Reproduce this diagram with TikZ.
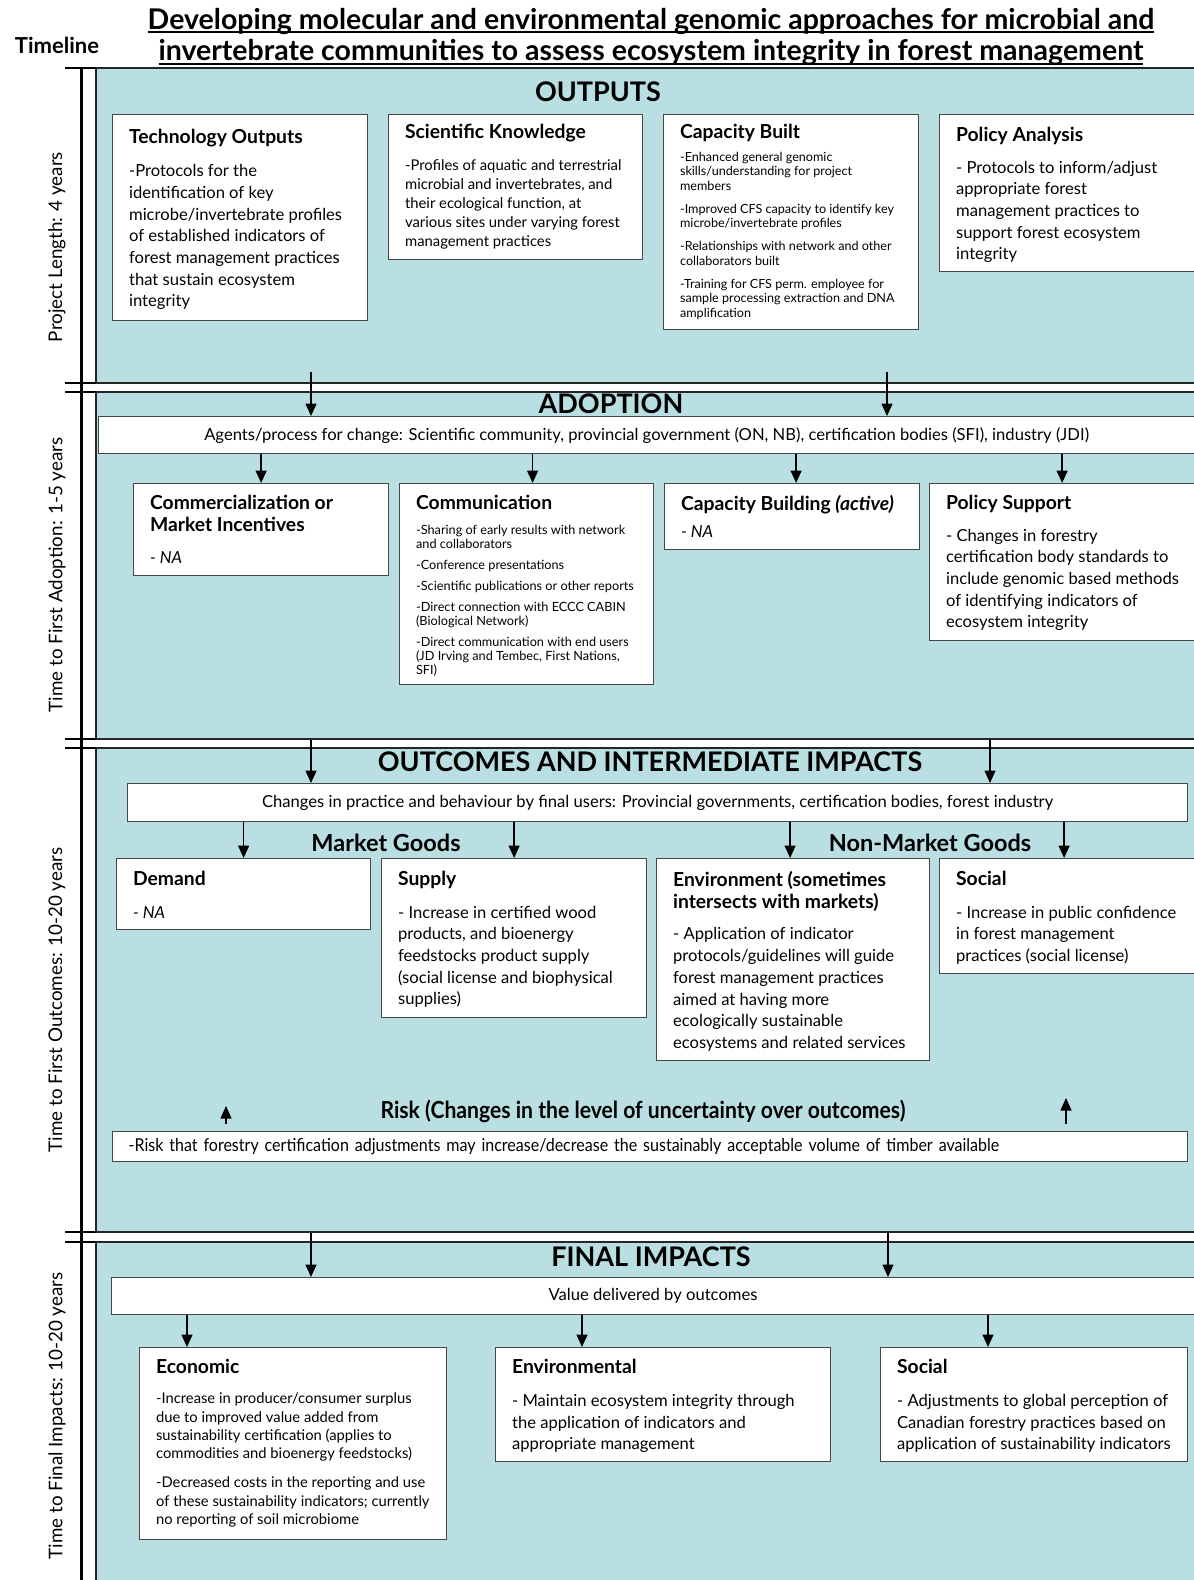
\documentclass[tikz,border=0pt]{standalone}
\usepackage{fontspec}
\setmainfont{Lato}
\newfontfamily\narrowfont[FakeStretch=0.9]{Lato}
\usetikzlibrary{arrows.meta}

\definecolor{panelblue}{RGB}{186,223,226}
\definecolor{edgegray}{RGB}{70,70,70}

\newcommand{\cellfill}[4]{\parbox[t][#2pt][t]{#1pt}{\vspace*{#3pt}\raggedright\leftskip=16.5pt\relax #4\par}}
\newcommand{\ctitle}[1]{{\fontsize{19.3}{22}\selectfont\bfseries #1\par}}
\newcommand{\bodybig}{\fontsize{16.6}{21.7}\selectfont}
\newcommand{\bodymid}{\fontsize{14.8}{19.2}\selectfont}
\newcommand{\bodysmall}{\fontsize{12.6}{14.5}\selectfont}
\newcommand{\titleline}[1]{\setbox0\hbox{#1}\rlap{\rule[-4pt]{\wd0}{1.9pt}}\box0}

\begin{document}
\begin{tikzpicture}[x=1pt, y=-1pt,
    panel/.style={fill=panelblue},
    rim/.style={draw=black!85, line width=1.5pt},
    spine/.style={line width=3pt},
    tick/.style={line width=2.6pt},
    cell/.style={draw=edgegray, fill=white, line width=1.2pt, inner sep=0pt, anchor=north west},
    strip/.style={draw=edgegray, fill=white, line width=1.2pt, inner sep=0pt, anchor=north west, font=\bodybig},
    heading/.style={font=\fontsize{27}{31}\selectfont\bfseries},
    goods/.style={font=\fontsize{23.5}{27}\selectfont\bfseries},
    phase/.style={rotate=90, font=\fontsize{18.8}{22}\selectfont},
    flow/.style={-{Triangle[length=12.5pt,width=11pt]}, line width=1.5pt}]

  \useasboundingbox (0,0) rectangle (1194,1580);
  \fill[white] (0,0) rectangle (1194,1580);

  % title and timeline
  \node[align=center, font=\fontsize{28.5}{31.5}\selectfont\bfseries] (title) at (651,37)
    {\titleline{Developing molecular and environmental genomic approaches for microbial and}\\
     \titleline{invertebrate communities to assess ecosystem integrity in forest management}};
  \node[font=\fontsize{22}{26}\selectfont\bfseries] (timeline) at (57,45) {Timeline};

  % panels
  \fill[panel] (96,68) rectangle (1194,383);
  \draw[rim] (1194,68) -- (96,68) -- (96,383) -- (1194,383);
  \fill[panel] (96,392) rectangle (1194,739);
  \draw[rim] (1194,392) -- (96,392) -- (96,739) -- (1194,739);
  \fill[panel] (96,748) rectangle (1194,1232);
  \draw[rim] (1194,748) -- (96,748) -- (96,1232) -- (1194,1232);
  \fill[panel] (96,1242) rectangle (1194,1580);
  \draw[rim] (1194,1242) -- (96,1242) -- (96,1580);

  \draw[spine] (81,67) -- (81,1580);
  \draw[tick] (65,68) -- (96,68);
  \draw[tick] (65,383) -- (96,383);
  \draw[tick] (65,392) -- (96,392);
  \draw[tick] (65,739) -- (96,739);
  \draw[tick] (65,748) -- (96,748);
  \draw[tick] (65,1232) -- (96,1232);
  \draw[tick] (65,1242) -- (96,1242);

  \node[phase] (len) at (57,247) {Project Length: 4 years};
  \node[phase] (adtime) at (57,575) {Time to First Adoption: 1-5 years};
  \node[phase] (outtime) at (57,1000) {Time to First Outcomes: 10-20 years};
  \node[phase] (fintime) at (57,1416) {Time to Final Impacts: 10-20 years};

  % outputs
  \node[heading] (outhead) at (598,92) {OUTPUTS};
  \node[cell] (techout) at (112,114) {\cellfill{255}{206}{15}{\ctitle{Technology Outputs}\vspace{11pt}\bodybig
    -Protocols for the\\identification of key\\microbe/invertebrate profiles\\of established indicators of\\forest management practices\\that sustain ecosystem\\integrity}};
  \node[cell] (sciknow) at (388,114) {\cellfill{254}{145}{9.5}{\ctitle{Scientific Knowledge}\vspace{12.5pt}\bodymid
    -Profiles of aquatic and terrestrial\\microbial and invertebrates, and\\their ecological function, at\\various sites under varying forest\\management practices}};
  \node[cell] (capbuilt) at (663,114) {\cellfill{255}{215}{9.5}{\ctitle{Capacity Built}\vspace{8.5pt}\bodysmall
    -Enhanced general genomic\\skills/understanding for project\\members\\[8.5pt]
    -Improved CFS capacity to identify key\\microbe/invertebrate profiles\\[8.5pt]
    -Relationships with network and other\\collaborators built\\[8.5pt]
    -Training for CFS perm. employee for\\sample processing extraction and DNA\\amplification}};
  \node[cell] (polana) at (939,114) {\cellfill{255}{157}{12.5}{\ctitle{Policy Analysis}\vspace{10pt}\bodybig
    - Protocols to inform/adjust\\appropriate forest\\management practices to\\support forest ecosystem\\integrity}};

  % adoption
  \node[heading] (adhead) at (611,404) {ADOPTION};
  \node[strip, minimum width=1096pt, minimum height=37pt] (agents) at (98,416)
    {Agents/process for change: Scientific community, provincial government (ON, NB), certification bodies (SFI), industry (JDI)};
  \node[cell] (commerce) at (133,483) {\cellfill{255}{92}{11.5}{\ctitle{Commercialization or\\Market Incentives}\vspace{10pt}\bodybig\itshape
    - NA}};
  \node[cell] (comm) at (399,483) {\cellfill{254}{201}{11.5}{\ctitle{Communication}\vspace{10.5pt}\fontsize{12.7}{14.1}\selectfont
    -Sharing of early results with network\\and collaborators\\[7pt]
    -Conference presentations\\[7pt]
    -Scientific publications or other reports\\[7pt]
    -Direct connection with ECCC CABIN\\(Biological Network)\\[7pt]
    -Direct communication with end users\\(JD Irving and Tembec, First Nations,\\SFI)}};
  \node[cell] (capbuild) at (664,483) {\cellfill{255}{66}{11.5}{\ctitle{Capacity Building \textit{(active)}}\vspace{5.8pt}\bodybig\itshape
    - NA}};
  \node[cell] (polsup) at (929,483) {\cellfill{265}{157}{11.5}{\ctitle{Policy Support}\vspace{10pt}\bodybig
    - Changes in forestry\\certification body standards to\\include genomic based methods\\of identifying indicators of\\ecosystem integrity}};

  % outcomes and intermediate impacts
  \node[heading] (ochead) at (650,762) {OUTCOMES AND INTERMEDIATE IMPACTS};
  \node[strip, minimum width=1060pt, minimum height=38pt] (changes) at (127,783)
    {Changes in practice and behaviour by final users: Provincial governments, certification bodies, forest industry};
  \node[goods] (market) at (386,843) {Market Goods};
  \node[goods] (nonmarket) at (930,843) {Non-Market Goods};
  \node[cell] (demand) at (116,858) {\cellfill{254}{71}{12.5}{\ctitle{Demand}\vspace{11pt}\bodybig\itshape
    - NA}};
  \node[cell] (supply) at (381,858) {\cellfill{265}{159}{12.5}{\ctitle{Supply}\vspace{11pt}\bodybig
    - Increase in certified wood\\products, and bioenergy\\feedstocks product supply\\(social license and biophysical\\supplies)}};
  \node[cell] (environ) at (656,858) {\cellfill{273}{202}{12.5}{\ctitle{Environment (sometimes\\intersects with markets)}\vspace{10pt}\bodybig
    - Application of indicator\\protocols/guidelines will guide\\forest management practices\\aimed at having more\\ecologically sustainable\\ecosystems and related services}};
  \node[cell] (social) at (939,858) {\cellfill{255}{115}{12.5}{\ctitle{Social}\vspace{11pt}\bodybig
    - Increase in public confidence\\in forest management\\practices (social license)}};
  \node[font=\narrowfont\fontsize{23.5}{27}\selectfont\bfseries] (riskhead) at (643,1111)
    {Risk (Changes in the level of uncertainty over outcomes)};
  \node[strip, minimum width=1075pt, minimum height=30pt, text width=1043pt, inner xsep=16pt, align=left,
    font=\narrowfont\fontsize{17.8}{20}\selectfont] (risk) at (112,1131)
    {-Risk that forestry certification adjustments may increase/decrease the sustainably acceptable volume of timber available};

  % final impacts
  \node[heading] (finhead) at (651,1257) {FINAL IMPACTS};
  \node[strip, minimum width=1083pt, minimum height=37pt] (value) at (111,1277) {Value delivered by outcomes};
  \node[cell] (econ) at (139,1347) {\cellfill{307}{192}{11.5}{\ctitle{Economic}\vspace{12pt}\fontsize{14.75}{18.3}\selectfont
    -Increase in producer/consumer surplus\\due to improved value added from\\sustainability certification (applies to\\commodities and bioenergy feedstocks)\\[11pt]
    -Decreased costs in the reporting and use\\of these sustainability indicators; currently\\no reporting of soil microbiome}};
  \node[cell] (envimp) at (495,1347) {\cellfill{335}{114}{11.5}{\ctitle{Environmental}\vspace{11.3pt}\bodybig
    - Maintain ecosystem integrity through\\the application of indicators and\\appropriate management}};
  \node[cell] (socimp) at (880,1347) {\cellfill{307}{114}{11.5}{\ctitle{Social}\vspace{11.3pt}\bodybig
    - Adjustments to global perception of\\Canadian forestry practices based on\\application of sustainability indicators}};

  % connectors
  \coordinate (o1) at (311,372);
  \coordinate (o2) at (887,372);
  \draw[flow] (o1) -- (agents.north -| o1);
  \draw[flow] (o2) -- (agents.north -| o2);
  \draw[flow] (agents.south -| commerce.north) -- (commerce.north);
  \draw[flow] ([xshift=6pt]comm.north |- agents.south) -- ([xshift=6pt]comm.north);
  \draw[flow] ([xshift=4pt]capbuild.north |- agents.south) -- ([xshift=4pt]capbuild.north);
  \draw[flow] (agents.south -| polsup.north) -- (polsup.north);

  \coordinate (a1) at (311,740);
  \coordinate (a2) at (990,740);
  \draw[flow] (a1) -- (changes.north -| a1);
  \draw[flow] (a2) -- (changes.north -| a2);
  \draw[flow] (changes.south -| demand.north) -- (demand.north);
  \draw[flow] (changes.south -| supply.north) -- (supply.north);
  \draw[flow] ([xshift=-3pt]environ.north |- changes.south) -- ([xshift=-3pt]environ.north);
  \draw[flow] ([xshift=-3pt]social.north |- changes.south) -- ([xshift=-3pt]social.north);

  \coordinate (r1) at (226,1124);
  \coordinate (r1top) at (226,1106);
  \coordinate (r2) at (1066,1124);
  \coordinate (r2top) at (1066,1098);
  \draw[flow] (r1) -- (r1top);
  \draw[flow] (r2) -- (r2top);

  \coordinate (c1) at (311,1233);
  \coordinate (c2) at (888,1233);
  \draw[flow] (c1) -- (value.north -| c1);
  \draw[flow] (c2) -- (value.north -| c2);
  \coordinate (f1) at (187,1330);
  \coordinate (f2) at (582,1330);
  \coordinate (f3) at (988,1330);
  \draw[flow] (value.south -| f1) -- (econ.north -| f1);
  \draw[flow] (value.south -| f2) -- (envimp.north -| f2);
  \draw[flow] (value.south -| f3) -- (socimp.north -| f3);

\end{tikzpicture}
\end{document}
